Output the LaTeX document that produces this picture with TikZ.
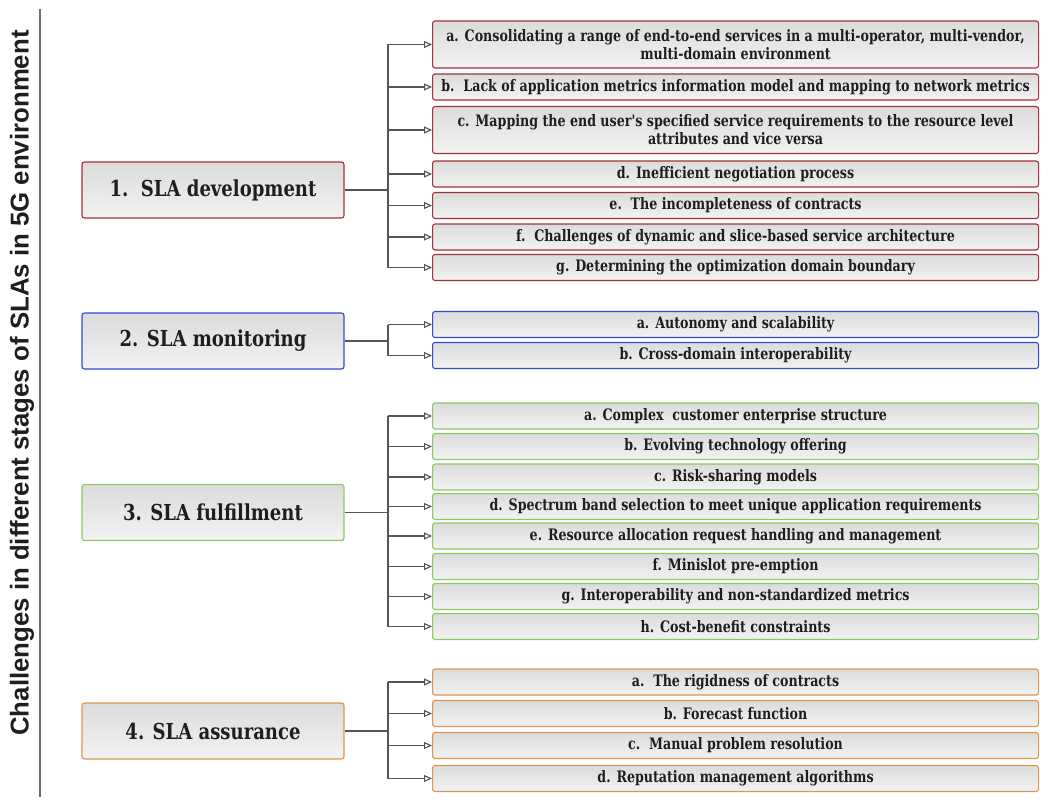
\documentclass[tikz,border=0pt]{standalone}
\usepackage{fontspec}
\setmainfont{DejaVu Serif}
\newfontfamily\slab[FakeStretch=0.8]{DejaVu Serif}
\newfontfamily\slabm[FakeStretch=0.82]{DejaVu Serif}
\newfontfamily\titlef{Liberation Sans}
\usetikzlibrary{arrows.meta}
\definecolor{cred}{RGB}{162,50,58}
\definecolor{cblue}{RGB}{52,72,212}
\definecolor{cgreen}{RGB}{140,200,100}
\definecolor{corange}{RGB}{220,150,80}
\definecolor{cg}{RGB}{85,85,85}
\definecolor{lg}{RGB}{110,110,110}
\definecolor{txt}{RGB}{30,30,30}
\tikzset{
  box/.style={draw, rounded corners=2.5pt, line width=1.1pt, top color=black!14, middle color=black!13, bottom color=black!5, inner sep=0pt, align=center, text=txt},
  mainbox/.style={box, minimum width=262pt, minimum height=56pt, font=\slabm\bfseries\fontsize{22}{26}\selectfont},
  itembox/.style={box, anchor=west, minimum width=606pt, minimum height=26pt, font=\slab\bfseries\fontsize{15.8}{18}\selectfont},
  twoline/.style={minimum height=47pt},
  conn/.style={draw=cg, line width=1.1pt},
  arr/.style={conn, -{Triangle[open,length=8pt,width=7pt,fill=white]}},
  trunk/.style={draw=cg, line width=1.8pt}
}
\begin{document}
\begin{tikzpicture}[x=1pt,y=-1pt]
\useasboundingbox (0,0) rectangle (1050,808);
% title
\node[rotate=90, text=txt, font=\titlef\bfseries\fontsize{25.8}{30}\selectfont] (title) at (22,383) {Challenges in different stages of SLAs in 5G environment};
\coordinate (lt) at (40,9);
\coordinate (lb) at (40,797);
\draw[draw=lg, line width=1.8pt] (lt) -- (lb);
% main boxes
\node[mainbox, draw=cred] (m1) at (213,190) {1.\ \ SLA development};
\node[mainbox, draw=cblue] (m2) at (213,341) {2. SLA monitoring};
\node[mainbox, draw=cgreen] (m3) at (213,512.5) {3. SLA fulfillment};
\node[mainbox, draw=corange] (m4) at (213,731) {4. SLA assurance};
\coordinate (b1) at (388,190);
\coordinate (b2) at (388,341);
\coordinate (b3) at (388,512.5);
\coordinate (b4) at (388,731);
% group 1
\node[itembox, twoline, draw=cred] (g1a) at (432,44.5) {a. Consolidating a range of end-to-end services in a multi-operator, multi-vendor,\\ multi-domain environment};
\node[itembox, draw=cred] (g1b) at (432,87) {b.\ \ Lack of application metrics information model and mapping to network metrics};
\node[itembox, twoline, draw=cred] (g1c) at (432,130) {c. Mapping the end user's specified service requirements to the resource level\\ attributes and vice versa};
\node[itembox, draw=cred] (g1d) at (432,174) {d. Inefficient negotiation process};
\node[itembox, draw=cred] (g1e) at (432,205.5) {e.\ \ The incompleteness of contracts};
\node[itembox, draw=cred] (g1f) at (432,237) {f.\ \ Challenges of dynamic and slice-based service architecture};
\node[itembox, draw=cred] (g1g) at (432,267.5) {g. Determining the optimization domain boundary};
% group 2
\node[itembox, draw=cblue] (g2a) at (432,324.5) {a. Autonomy and scalability};
\node[itembox, draw=cblue] (g2b) at (432,355.5) {b. Cross-domain interoperability};
% group 3
\node[itembox, draw=cgreen] (g3a) at (432,416) {a. Complex\ \ customer enterprise structure};
\node[itembox, draw=cgreen] (g3b) at (432,446.5) {b. Evolving technology offering};
\node[itembox, draw=cgreen] (g3c) at (432,477) {c. Risk-sharing models};
\node[itembox, draw=cgreen] (g3d) at (432,506.5) {d. Spectrum band selection to meet unique application requirements};
\node[itembox, draw=cgreen] (g3e) at (432,536) {e. Resource allocation request handling and management};
\node[itembox, draw=cgreen] (g3f) at (432,566.5) {f. Minislot pre-emption};
\node[itembox, draw=cgreen] (g3g) at (432,596.5) {g. Interoperability and non-standardized metrics};
\node[itembox, draw=cgreen] (g3h) at (432,626.5) {h. Cost-benefit constraints};
% group 4
\node[itembox, draw=corange] (g4a) at (432,682) {a.\ \ The rigidness of contracts};
\node[itembox, draw=corange] (g4b) at (432,713.5) {b. Forecast function};
\node[itembox, draw=corange] (g4c) at (432,745.5) {c.\ \ Manual problem resolution};
\node[itembox, draw=corange] (g4d) at (432,778.5) {d. Reputation management algorithms};
% connectors
\draw[trunk] (m1.east) -- (b1);
\draw[trunk] (m2.east) -- (b2);
\draw[trunk] (m3.east) -- (b3);
\draw[trunk] (m4.east) -- (b4);
\draw[conn] (b1 |- g1a.west) -- (b1 |- g1g.west);
\draw[conn] (b2 |- g2a.west) -- (b2 |- g2b.west);
\draw[conn] (b3 |- g3a.west) -- (b3 |- g3h.west);
\draw[conn] (b4 |- g4a.west) -- (b4 |- g4d.west);
\foreach \n in {a,b,c,d,e,f,g} \draw[arr] (b1 |- g1\n.west) -- (g1\n.west);
\foreach \n in {a,b} \draw[arr] (b2 |- g2\n.west) -- (g2\n.west);
\foreach \n in {a,b,c,d,e,f,g,h} \draw[arr] (b3 |- g3\n.west) -- (g3\n.west);
\foreach \n in {a,b,c,d} \draw[arr] (b4 |- g4\n.west) -- (g4\n.west);
\end{tikzpicture}
\end{document}
